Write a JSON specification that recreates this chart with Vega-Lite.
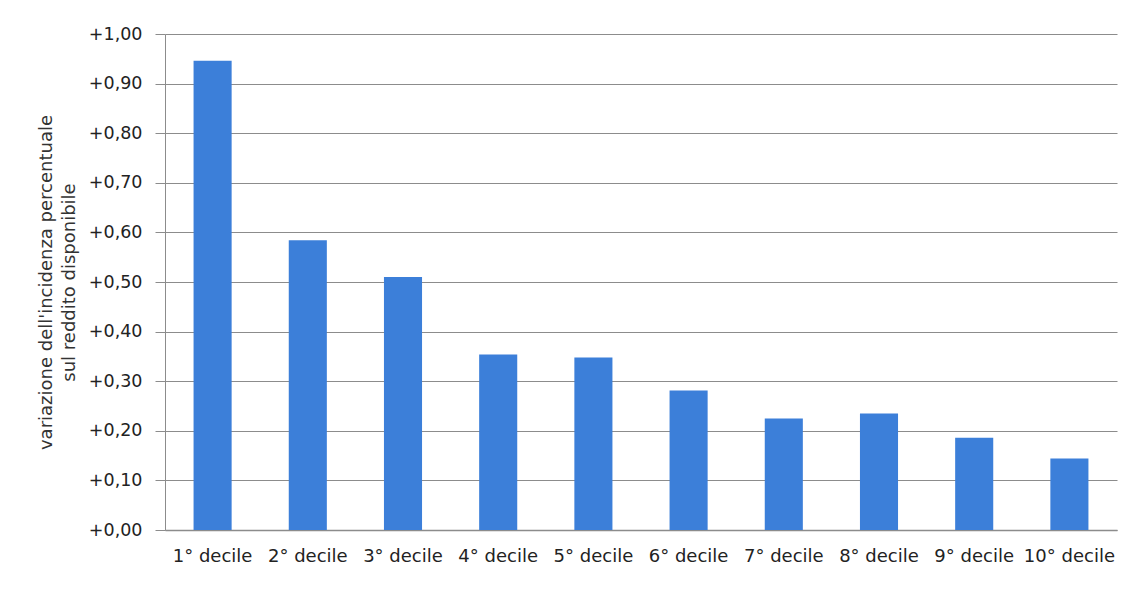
{
  "$schema": "https://vega.github.io/schema/vega-lite/v6.json",
  "width": 952,
  "height": 496,
  "autosize": {"type": "none"},
  "padding": {"left": 165, "top": 34, "right": 7, "bottom": 81},
  "background": "#ffffff",
  "data": {
    "values": [
      {"decile": "1° decile", "variazione": 0.946},
      {"decile": "2° decile", "variazione": 0.584},
      {"decile": "3° decile", "variazione": 0.510},
      {"decile": "4° decile", "variazione": 0.354},
      {"decile": "5° decile", "variazione": 0.348},
      {"decile": "6° decile", "variazione": 0.281},
      {"decile": "7° decile", "variazione": 0.225},
      {"decile": "8° decile", "variazione": 0.235},
      {"decile": "9° decile", "variazione": 0.186},
      {"decile": "10° decile", "variazione": 0.144}
    ]
  },
  "mark": {"type": "bar", "color": "#3c7fd9"},
  "encoding": {
    "x": {
      "field": "decile",
      "type": "nominal",
      "sort": null,
      "scale": {"paddingInner": 0.6, "paddingOuter": 0.3},
      "axis": {
        "title": null,
        "labelAngle": 0,
        "labelFont": "DejaVu Sans",
        "labelFontSize": 18,
        "labelColor": "#222222",
        "labelPadding": 17,
        "ticks": false,
        "domainColor": "#8c8c8c",
        "domainWidth": 1.5
      }
    },
    "y": {
      "field": "variazione",
      "type": "quantitative",
      "scale": {"domain": [0, 1], "nice": false},
      "axis": {
        "title": ["variazione dell'incidenza percentuale", "sul reddito disponibile"],
        "titleFont": "DejaVu Sans",
        "titleFontSize": 18,
        "titleFontWeight": "normal",
        "titleColor": "#333333",
        "titleLineHeight": 23,
        "titlePadding": 10,
        "values": [0, 0.1, 0.2, 0.3, 0.4, 0.5, 0.6, 0.7, 0.8, 0.9, 1.0],
        "labelExpr": "'+' + replace(format(datum.value, '.2f'), '.', ',')",
        "labelFont": "DejaVu Sans",
        "labelFontSize": 17.5,
        "labelColor": "#222222",
        "labelPadding": 13,
        "tickSize": 10,
        "tickColor": "#8c8c8c",
        "domainColor": "#8c8c8c",
        "grid": true,
        "gridColor": "#8c8c8c",
        "gridWidth": 1.2
      }
    }
  },
  "config": {
    "view": {"stroke": null}
  }
}
